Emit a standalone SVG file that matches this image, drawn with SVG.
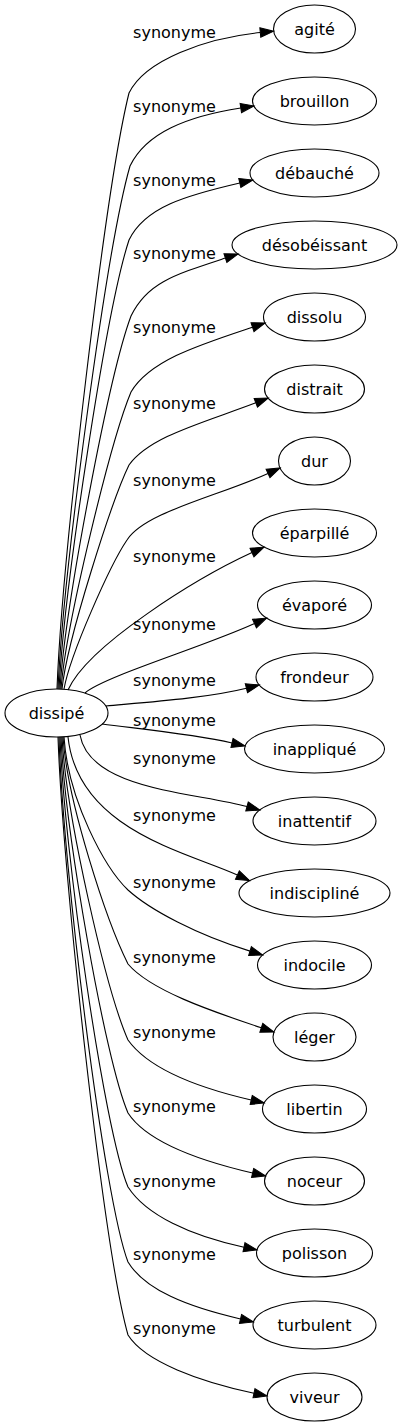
<svg xmlns="http://www.w3.org/2000/svg" width="401" height="1427" viewBox="0 0 401 1427">
<style>
text{font-family:"DejaVu Sans",Verdana,sans-serif;font-size:16px;fill:#000;text-anchor:middle}
.n ellipse{fill:none;stroke:#000;stroke-width:1.1}
.e path{fill:none;stroke:#000;stroke-width:1.1;marker-end:url(#arr)}
</style>
<defs>
<marker id="arr" markerUnits="userSpaceOnUse" markerWidth="13.33" markerHeight="9.33" refX="0" refY="4.67" orient="auto" viewBox="0 0 13.33 9.33" overflow="visible"><path d="M0,0 L13.33,4.67 L0,9.33 Z" fill="#000" stroke="#000" stroke-width="1"/></marker>
</defs>
<g class="e" id="edges">
<path d="M57,689 C62,560 105,190 129,93 C145,60 205.6,38 260.3,32.5"/>
<path d="M58,689 C63,575 106,250 130,166 C146,133 186.5,116.4 240.8,108"/>
<path d="M59,689 C64,590 106,310 129,240 C145,207 186.2,195.4 239.8,183"/>
<path d="M60,689 C65,607 109,375 131,316 C147,283 173.2,275.2 225.4,258.1"/>
<path d="M61,689 C66,624 111,440 131,392 C150,360 200.3,344.6 252.5,327.2"/>
<path d="M62,689 C67,640 112,500 129,465 C150,436 204.5,422.5 255.8,402.8"/>
<path d="M64,689 C70,655 110,565 127,540 C145,512 218,496.3 268,473.5"/>
<path d="M68,690 C88,645 197.5,577.7 252,552.6"/>
<path d="M85,693 C105,676 204.6,646.6 254.5,623.6"/>
<path d="M106,706 C150,702 207.6,697.9 246.4,688.2"/>
<path d="M102,724 C140,729 193,734 232,743"/>
<path d="M80,735 C90,790 193.9,792 247,806.5"/>
<path d="M68,737 C78,830 187.4,852.2 237.4,875"/>
<path d="M64,737 C68,800 105,868 128,890 C150,910 197.4,935 250,951.1"/>
<path d="M63,737 C67,800 106,920 128,964 C150,990 209.1,1010.4 261.3,1027.8"/>
<path d="M62,737 C66,815 106,990 128,1040 C148,1068 197.6,1087.6 251.2,1100"/>
<path d="M61,737 C65,830 105,1060 128,1113 C147,1142 199,1160.6 252.6,1173"/>
<path d="M60,737 C64,850 104,1130 128,1187 C146,1215 190.2,1235.7 244,1247.2"/>
<path d="M59,737 C63,870 104,1200 128,1262 C145,1290 187,1306.6 240.5,1319"/>
<path d="M58,737 C63,880 104,1250 128,1335 C145,1362 200.2,1381.7 254,1393.2"/>
</g>
<g id="edge-labels">
<text x="174.5" y="38">synonyme</text>
<text x="174.5" y="112">synonyme</text>
<text x="174.5" y="186">synonyme</text>
<text x="174.5" y="259">synonyme</text>
<text x="174.5" y="333">synonyme</text>
<text x="174.5" y="409">synonyme</text>
<text x="174.5" y="486">synonyme</text>
<text x="174.5" y="562">synonyme</text>
<text x="174.5" y="630">synonyme</text>
<text x="174.5" y="686">synonyme</text>
<text x="174.5" y="726">synonyme</text>
<text x="174.5" y="764">synonyme</text>
<text x="174.5" y="821">synonyme</text>
<text x="174.5" y="888">synonyme</text>
<text x="174.5" y="963">synonyme</text>
<text x="174.5" y="1038">synonyme</text>
<text x="174.5" y="1112">synonyme</text>
<text x="174.5" y="1187">synonyme</text>
<text x="174.5" y="1260">synonyme</text>
<text x="174.5" y="1334">synonyme</text>
</g>
<g class="n" id="n-dissipe"><ellipse cx="56.5" cy="713" rx="51.5" ry="24"/><text x="56.5" y="719">dissipé</text></g>
<g class="n" id="n-agite"><ellipse cx="314.5" cy="29" rx="41" ry="24"/><text x="314.5" y="35">agité</text></g>
<g class="n" id="n-brouillon"><ellipse cx="314.5" cy="101" rx="62" ry="24"/><text x="314.5" y="107">brouillon</text></g>
<g class="n" id="n-debauche"><ellipse cx="314.5" cy="173" rx="64.5" ry="24"/><text x="314.5" y="179">débauché</text></g>
<g class="n" id="n-desobeissant"><ellipse cx="314.5" cy="245" rx="82.5" ry="24"/><text x="314.5" y="251">désobéissant</text></g>
<g class="n" id="n-dissolu"><ellipse cx="314.5" cy="317" rx="51" ry="24"/><text x="314.5" y="323">dissolu</text></g>
<g class="n" id="n-distrait"><ellipse cx="314.5" cy="389" rx="50" ry="24"/><text x="314.5" y="395">distrait</text></g>
<g class="n" id="n-dur"><ellipse cx="314.5" cy="461" rx="36" ry="24"/><text x="314.5" y="467">dur</text></g>
<g class="n" id="n-eparpille"><ellipse cx="314.5" cy="533" rx="62" ry="24"/><text x="314.5" y="539">éparpillé</text></g>
<g class="n" id="n-evapore"><ellipse cx="314.5" cy="605" rx="57" ry="24"/><text x="314.5" y="611">évaporé</text></g>
<g class="n" id="n-frondeur"><ellipse cx="314.5" cy="677" rx="58.5" ry="24"/><text x="314.5" y="683">frondeur</text></g>
<g class="n" id="n-inapplique"><ellipse cx="314.5" cy="749" rx="70" ry="24"/><text x="314.5" y="755">inappliqué</text></g>
<g class="n" id="n-inattentif"><ellipse cx="314.5" cy="821" rx="61.5" ry="24"/><text x="314.5" y="827">inattentif</text></g>
<g class="n" id="n-indiscipline"><ellipse cx="314.5" cy="893" rx="75.5" ry="24"/><text x="314.5" y="899">indiscipliné</text></g>
<g class="n" id="n-indocile"><ellipse cx="314.5" cy="965" rx="57" ry="24"/><text x="314.5" y="971">indocile</text></g>
<g class="n" id="n-leger"><ellipse cx="314.5" cy="1037" rx="41.5" ry="24"/><text x="314.5" y="1043">léger</text></g>
<g class="n" id="n-libertin"><ellipse cx="314.5" cy="1109" rx="52" ry="24"/><text x="314.5" y="1115">libertin</text></g>
<g class="n" id="n-noceur"><ellipse cx="314.5" cy="1181" rx="50" ry="24"/><text x="314.5" y="1187">noceur</text></g>
<g class="n" id="n-polisson"><ellipse cx="314.5" cy="1253" rx="58" ry="24"/><text x="314.5" y="1259">polisson</text></g>
<g class="n" id="n-turbulent"><ellipse cx="314.5" cy="1325" rx="61.5" ry="24"/><text x="314.5" y="1331">turbulent</text></g>
<g class="n" id="n-viveur"><ellipse cx="314.5" cy="1397" rx="47.5" ry="24"/><text x="314.5" y="1403">viveur</text></g>
</svg>
